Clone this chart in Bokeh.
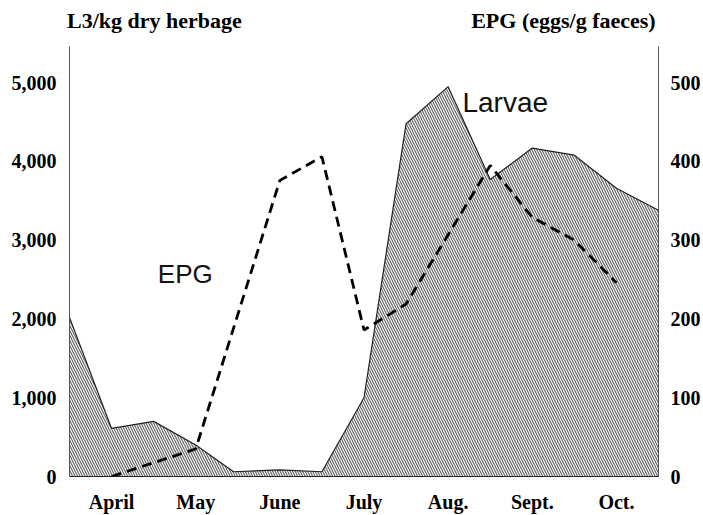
from bokeh.plotting import figure
from bokeh.models import Range1d, LinearAxis, FixedTicker, NumeralTickFormatter, Label
from bokeh.embed import file_html
from bokeh.resources import INLINE

# ---- data ----
months = ["April", "May", "June", "July", "Aug.", "Sept.", "Oct."]
month_pos = [4, 5, 6, 7, 8, 9, 10]

larvae_x = [3.5, 4.0, 4.5, 5.0, 5.45, 6.0, 6.5, 7.0, 7.5, 8.0, 8.5, 9.0, 9.5, 10.0, 10.5]
larvae_y = [2020, 610, 700, 400, 60, 85, 60, 1000, 4480, 4950, 3770, 4170, 4080, 3660, 3380]

epg_x = [4.0, 5.0, 6.0, 6.5, 7.0, 7.5, 8.5, 9.0, 9.5, 10.0]
epg_y = [0, 35, 376, 406, 186, 219, 395, 329, 300, 246]

left_ticks = [0, 1000, 2000, 3000, 4000, 5000]
right_ticks = [0, 100, 200, 300, 400, 500]

titles = ["L3/kg dry herbage", "EPG (eggs/g faeces)"]
title_pos = [4.51, 9.37]

SERIF = "Liberation Serif"
SANS = "Liberation Sans"

p = figure(width=703, height=515,
           x_range=Range1d(3.5, 10.5), y_range=Range1d(0, 5460),
           output_backend="svg", toolbar_location=None,
           min_border_left=69, min_border_right=42,
           min_border_top=46, min_border_bottom=32)
p.outline_line_color = None
p.grid.visible = False
p.background_fill_color = "white"
p.border_fill_color = "white"

p.extra_y_ranges = {"epg": Range1d(0, 546)}

# larvae hatched area
p.varea(x=larvae_x, y1=0, y2=larvae_y, fill_color="white",
        hatch_pattern="left_diagonal_line", hatch_scale=5,
        hatch_weight=1.2, hatch_color="#666666")
p.line(larvae_x, larvae_y, line_color="#222222", line_width=1.2)

# EPG dashed line
p.line(epg_x, epg_y, y_range_name="epg", line_color="black",
       line_width=2.8, line_dash="10 6")


def style_axis(ax, size, standoff):
    ax.major_tick_line_color = None
    ax.minor_tick_line_color = None
    ax.major_label_standoff = standoff
    ax.major_label_text_font = SERIF
    ax.major_label_text_font_style = "bold"
    ax.major_label_text_font_size = size
    ax.major_label_text_color = "black"


# left axis
la = p.yaxis[0]
la.ticker = FixedTicker(ticks=left_ticks)
la.formatter = NumeralTickFormatter(format="0,0")
la.axis_line_color = "#555555"
style_axis(la, "20px", 7)

# right axis
ra = LinearAxis(y_range_name="epg", ticker=FixedTicker(ticks=right_ticks))
ra.axis_line_color = "#555555"
style_axis(ra, "20px", 6)
p.add_layout(ra, "right")

# bottom axis with month names
ba = p.xaxis[0]
ba.ticker = FixedTicker(ticks=month_pos)
ba.major_label_overrides = {pos: m for pos, m in zip(month_pos, months)}
ba.axis_line_color = "#222222"
style_axis(ba, "20px", 8)

# top axis used for the two axis titles
ta = LinearAxis(ticker=FixedTicker(ticks=title_pos))
ta.major_label_overrides = {pos: t for pos, t in zip(title_pos, titles)}
ta.axis_line_color = None
style_axis(ta, "22px", 8)
p.add_layout(ta, "above")

# series labels
p.add_layout(Label(x=4.55, y=2575, text="EPG", text_align="left",
                   text_baseline="alphabetic", text_font=SANS,
                   text_font_size="26px", text_color="#111111"))
p.add_layout(Label(x=8.17, y=4750, text="Larvae", text_align="left",
                   text_baseline="alphabetic", text_font=SANS,
                   text_font_size="28px", text_color="#111111"))

open("out.html", "w").write(file_html(p, INLINE))
